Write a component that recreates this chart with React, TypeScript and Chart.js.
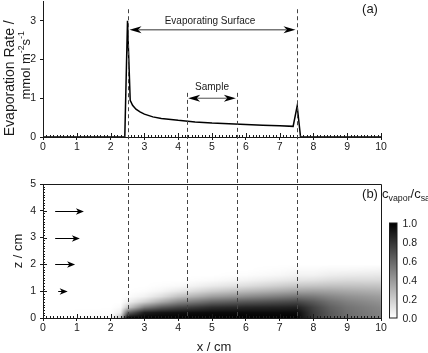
import React, { useEffect, useRef } from "react";
import { Chart, registerables } from "chart.js";

Chart.register(...registerables);

const FONT = "'Liberation Sans', Arial, Helvetica, sans-serif";
const INK = "#1a1a1a";

// ---------- Panel (a): evaporation rate ----------
const rateX = [0, 2.42, 2.5, 2.58, 2.65, 2.75, 2.87, 3.0, 3.25, 3.5, 4.0, 4.5, 5.0, 5.5, 6.0, 6.5, 7.0, 7.4, 7.52, 7.62, 10];
const rateY = [0, 0, 3.0, 0.95, 0.82, 0.72, 0.65, 0.59, 0.52, 0.48, 0.43, 0.39, 0.36, 0.34, 0.32, 0.305, 0.29, 0.275, 0.8, 0, 0];

const xTicks = [0, 1, 2, 3, 4, 5, 6, 7, 8, 9, 10];
const rateTicks = [0, 1, 2, 3];
const zTicks = [0, 1, 2, 3, 4, 5];
const cbTicks = [0, 0.2, 0.4, 0.6, 0.8, 1.0];

// guides and annotations
const guideX = [2.5, 4.25, 5.75, 7.5];
const guideTop = [3.3, 1.14, 1.14, 3.3];
const surfaceSpan = [2.5, 7.5];
const sampleSpan = [4.25, 5.75];
const surfaceLabel = "Evaporating Surface";
const sampleLabel = "Sample";
const surfaceArrowY = 2.77;
const surfaceLabelY = 3.0;
const sampleArrowY = 1.0;
const sampleLabelY = 1.28;

// ---------- Panel (b): vapour concentration field ----------
const flowZ = [4, 3, 2, 1];
const flowFrom = [0.36, 0.36, 0.36, 0.45];
const flowTo = [1.21, 1.09, 0.95, 0.73];

const gridX = [0, 2.0, 2.3, 2.5, 3, 3.5, 4, 5, 6, 7, 7.5, 8, 8.5, 9, 10];
const gridZ = [0, 0.2, 0.4, 0.6, 0.8, 1.0, 1.2, 1.4, 1.6, 1.8, 2.0];
const concZ00 = [0, 0.03, 0.25, 1.0, 1.0, 1.0, 1.0, 1.0, 1.0, 1.0, 1.0, 0.78, 0.66, 0.58, 0.5];
const concZ02 = [0, 0.01, 0.08, 0.6, 0.88, 0.92, 0.94, 0.96, 0.96, 0.96, 0.96, 0.77, 0.65, 0.57, 0.49];
const concZ04 = [0, 0, 0.02, 0.2, 0.5, 0.64, 0.72, 0.82, 0.85, 0.86, 0.87, 0.74, 0.62, 0.55, 0.47];
const concZ06 = [0, 0, 0, 0.05, 0.18, 0.33, 0.46, 0.6, 0.66, 0.7, 0.72, 0.65, 0.56, 0.5, 0.43];
const concZ08 = [0, 0, 0, 0.01, 0.05, 0.13, 0.24, 0.38, 0.45, 0.51, 0.54, 0.52, 0.47, 0.43, 0.38];
const concZ10 = [0, 0, 0, 0, 0.01, 0.04, 0.09, 0.2, 0.27, 0.33, 0.36, 0.37, 0.36, 0.34, 0.31];
const concZ12 = [0, 0, 0, 0, 0, 0.01, 0.02, 0.08, 0.13, 0.19, 0.22, 0.23, 0.24, 0.24, 0.23];
const concZ14 = [0, 0, 0, 0, 0, 0, 0, 0.02, 0.05, 0.09, 0.11, 0.12, 0.14, 0.15, 0.15];
const concZ16 = [0, 0, 0, 0, 0, 0, 0, 0, 0.01, 0.03, 0.05, 0.05, 0.07, 0.08, 0.09];
const concZ18 = [0, 0, 0, 0, 0, 0, 0, 0, 0, 0.01, 0.02, 0.02, 0.03, 0.03, 0.04];
const concZ20 = [0, 0, 0, 0, 0, 0, 0, 0, 0, 0, 0, 0, 0, 0, 0];
const concRows = [concZ00, concZ02, concZ04, concZ06, concZ08, concZ10, concZ12, concZ14, concZ16, concZ18, concZ20];

type Part = { t: string; mode?: "sup" | "sub" };

function drawRich(ctx: CanvasRenderingContext2D, parts: Part[], x: number, cy: number, size: number, align: "center" | "left") {
  const small = size * 0.68;
  const widths = parts.map((p) => {
    ctx.font = `${p.mode ? small : size}px ${FONT}`;
    return ctx.measureText(p.t).width;
  });
  const total = widths.reduce((a, b) => a + b, 0);
  let xx = align === "center" ? x - total / 2 : x;
  ctx.textAlign = "left";
  ctx.textBaseline = "alphabetic";
  parts.forEach((p, i) => {
    ctx.font = `${p.mode ? small : size}px ${FONT}`;
    const dy = p.mode === "sup" ? -size * 0.4 : p.mode === "sub" ? size * 0.28 : 0;
    ctx.fillText(p.t, xx, cy + size * 0.36 + dy);
    xx += widths[i];
  });
}

function head(ctx: CanvasRenderingContext2D, tipX: number, yy: number, dir: number, L: number, H: number) {
  ctx.beginPath();
  ctx.moveTo(tipX, yy);
  ctx.lineTo(tipX - dir * L, yy - H);
  ctx.lineTo(tipX - dir * L * 0.72, yy);
  ctx.lineTo(tipX - dir * L, yy + H);
  ctx.closePath();
  ctx.fill();
}

function doubleArrow(ctx: CanvasRenderingContext2D, x0: number, x1: number, yy: number) {
  const L = 12, H = 3.5;
  ctx.strokeStyle = "#777";
  ctx.lineWidth = 1.3;
  ctx.beginPath();
  ctx.moveTo(x0 + L * 0.75, yy);
  ctx.lineTo(x1 - L * 0.75, yy);
  ctx.stroke();
  ctx.fillStyle = "#000";
  head(ctx, x1, yy, 1, L, H);
  head(ctx, x0, yy, -1, L, H);
}

function findCell(arr: number[], v: number) {
  if (v <= arr[0]) return { i: 0, t: 0 };
  const n = arr.length - 1;
  if (v >= arr[n]) return { i: n - 1, t: 1 };
  let i = 0;
  while (i < n - 1 && v > arr[i + 1]) i++;
  return { i, t: (v - arr[i]) / (arr[i + 1] - arr[i]) };
}

function concAt(x: number, z: number) {
  if (z > gridZ[gridZ.length - 1]) return 0;
  const cx = findCell(gridX, x);
  const cz = findCell(gridZ, z);
  const r0 = concRows[cz.i], r1 = concRows[cz.i + 1];
  const a = r0[cx.i] * (1 - cx.t) + r0[cx.i + 1] * cx.t;
  const b = r1[cx.i] * (1 - cx.t) + r1[cx.i + 1] * cx.t;
  return a * (1 - cz.t) + b * cz.t;
}

const tickFont = { family: FONT, size: 10.5 };

function minorTicksX(ctx: CanvasRenderingContext2D, x: any, bottom: number) {
  ctx.strokeStyle = INK;
  ctx.lineWidth = 1;
  ctx.beginPath();
  for (let k = 0; k <= 100; k++) {
    const px = Math.round(x.getPixelForValue(k / 10)) + 0.5;
    const len = k % 10 === 0 ? 4 : 2;
    ctx.moveTo(px, bottom);
    ctx.lineTo(px, bottom - len);
  }
  ctx.stroke();
}

const topDecor = {
  id: "topDecor",
  afterDraw(chart: any) {
    const { ctx, chartArea: ca } = chart;
    const x = chart.scales.x, y = chart.scales.y;
    ctx.save();
    minorTicksX(ctx, x, ca.bottom);
    // guides
    ctx.strokeStyle = "#444";
    ctx.lineWidth = 1;
    ctx.setLineDash([4, 3]);
    guideX.forEach((gx, i) => {
      const px = Math.round(x.getPixelForValue(gx)) + 0.5;
      ctx.beginPath();
      ctx.moveTo(px, y.getPixelForValue(guideTop[i]));
      ctx.lineTo(px, chart.height);
      ctx.stroke();
    });
    ctx.setLineDash([]);
    // arrows
    doubleArrow(ctx, x.getPixelForValue(surfaceSpan[0]) + 2, x.getPixelForValue(surfaceSpan[1]) - 1, y.getPixelForValue(surfaceArrowY));
    doubleArrow(ctx, x.getPixelForValue(sampleSpan[0]) + 1.5, x.getPixelForValue(sampleSpan[1]) - 1.5, y.getPixelForValue(sampleArrowY));
    ctx.fillStyle = INK;
    ctx.textAlign = "center";
    ctx.textBaseline = "middle";
    ctx.font = `10px ${FONT}`;
    ctx.fillText(surfaceLabel, x.getPixelForValue((surfaceSpan[0] + surfaceSpan[1]) / 2) - 2, y.getPixelForValue(surfaceLabelY));
    ctx.fillText(sampleLabel, x.getPixelForValue((sampleSpan[0] + sampleSpan[1]) / 2), y.getPixelForValue(sampleLabelY));
    ctx.font = `13px ${FONT}`;
    ctx.fillText("(a)", ca.right - 11, ca.top + 8);
    // y title
    ctx.save();
    ctx.translate(10, (ca.top + ca.bottom) / 2 + 9);
    ctx.rotate(-Math.PI / 2);
    ctx.font = `14px ${FONT}`;
    ctx.fillText("Evaporation Rate /", 0, 0);
    ctx.restore();
    ctx.save();
    ctx.translate(25, (ca.top + ca.bottom) / 2 - 4);
    ctx.rotate(-Math.PI / 2);
    drawRich(ctx, [{ t: "mmol m" }, { t: "-2", mode: "sup" }, { t: "s" }, { t: "-1", mode: "sup" }], 0, 0, 13, "center");
    ctx.restore();
    ctx.restore();
  },
};

const bottomDecor = {
  id: "bottomDecor",
  beforeDraw(chart: any) {
    const { ctx, chartArea: ca } = chart;
    const x = chart.scales.x, y = chart.scales.y;
    const left = Math.round(ca.left), top = Math.round(ca.top);
    const w = Math.round(ca.right) - left, h = Math.round(ca.bottom) - top;
    const off = document.createElement("canvas");
    off.width = w;
    off.height = h;
    const octx = off.getContext("2d")!;
    const img = octx.createImageData(w, h);
    for (let r = 0; r < h; r++) {
      const zv = y.getValueForPixel(top + r + 0.5);
      for (let c = 0; c < w; c++) {
        const xv = x.getValueForPixel(left + c + 0.5);
        const v = Math.max(0, Math.min(1, concAt(xv, zv)));
        const g = Math.round(255 * (1 - v));
        const o = (r * w + c) * 4;
        img.data[o] = g;
        img.data[o + 1] = g;
        img.data[o + 2] = g;
        img.data[o + 3] = 255;
      }
    }
    octx.putImageData(img, 0, 0);
    ctx.drawImage(off, left, top);
  },
  afterDraw(chart: any) {
    const { ctx, chartArea: ca } = chart;
    const x = chart.scales.x, y = chart.scales.y;
    ctx.save();
    minorTicksX(ctx, x, ca.bottom);
    // z minor ticks inward
    ctx.beginPath();
    for (let k = 0; k <= 50; k++) {
      const py = Math.round(y.getPixelForValue(k / 10)) + 0.5;
      const len = k % 10 === 0 ? 4 : 2;
      ctx.moveTo(ca.left, py);
      ctx.lineTo(ca.left + len, py);
    }
    ctx.stroke();
    // frame: top & right
    ctx.beginPath();
    ctx.moveTo(ca.left, Math.round(ca.top) + 0.5);
    ctx.lineTo(Math.round(ca.right) + 0.5, Math.round(ca.top) + 0.5);
    ctx.lineTo(Math.round(ca.right) + 0.5, ca.bottom);
    ctx.stroke();
    // guides
    ctx.strokeStyle = "#444";
    ctx.setLineDash([4, 3]);
    guideX.forEach((gx) => {
      const px = Math.round(x.getPixelForValue(gx)) + 0.5;
      ctx.beginPath();
      ctx.moveTo(px, 0);
      ctx.lineTo(px, ca.bottom);
      ctx.stroke();
    });
    ctx.setLineDash([]);
    // flow arrows
    ctx.strokeStyle = "#000";
    ctx.fillStyle = "#000";
    ctx.lineWidth = 1;
    flowZ.forEach((zv, i) => {
      const py = Math.round(y.getPixelForValue(zv)) + 0.5;
      const x0 = x.getPixelForValue(flowFrom[i]);
      const x1 = x.getPixelForValue(flowTo[i]);
      ctx.beginPath();
      ctx.moveTo(x0, py);
      ctx.lineTo(x1 - 5, py);
      ctx.stroke();
      head(ctx, x1, py, 1, 8, 3.2);
    });
    // colorbar
    const cbL = ca.right + 8.5, cbW = 7.5, cbB = ca.bottom, cbT = ca.bottom - 95;
    const grad = ctx.createLinearGradient(0, cbB, 0, cbT);
    grad.addColorStop(0, "#ffffff");
    grad.addColorStop(1, "#000000");
    ctx.fillStyle = grad;
    ctx.fillRect(cbL, cbT, cbW, cbB - cbT);
    ctx.strokeStyle = INK;
    ctx.strokeRect(cbL, cbT, cbW, cbB - cbT);
    ctx.fillStyle = INK;
    ctx.font = `10.5px ${FONT}`;
    ctx.textAlign = "left";
    ctx.textBaseline = "middle";
    cbTicks.forEach((v) => {
      const py = cbB - (cbB - cbT) * v;
      ctx.fillText(v.toFixed(1), cbL + 13, py + 1);
    });
    // labels
    ctx.font = `13px ${FONT}`;
    ctx.textAlign = "center";
    ctx.fillText("(b)", ca.right - 11, ca.top + 10);
    drawRich(ctx, [{ t: "c" }, { t: "vapor", mode: "sub" }, { t: "/c" }, { t: "sat", mode: "sub" }], ca.right + 1, ca.top + 9, 13, "left");
    ctx.font = `13px ${FONT}`;
    ctx.textAlign = "center";
    ctx.textBaseline = "middle";
    ctx.fillText("x / cm", x.getPixelForValue(5) + 2, 182);
    ctx.save();
    ctx.translate(18, (ca.top + ca.bottom) / 2);
    ctx.rotate(-Math.PI / 2);
    ctx.fillText("z / cm", 0, 0);
    ctx.restore();
    ctx.restore();
  },
};

function axisX(height: number) {
  return {
    type: "linear" as const,
    min: 0,
    max: 10,
    afterBuildTicks: (s: any) => {
      s.ticks = xTicks.map((v) => ({ value: v }));
    },
    ticks: { font: tickFont, color: INK, padding: 1, maxRotation: 0, autoSkip: false },
    grid: { drawOnChartArea: false, drawTicks: true, tickLength: 3, color: INK },
    border: { color: INK, width: 1 },
    afterFit: (s: any) => {
      s.height = height;
    },
  };
}

function axisY(max: number, ticks: number[]) {
  return {
    type: "linear" as const,
    min: 0,
    max,
    afterBuildTicks: (s: any) => {
      s.ticks = ticks.map((v) => ({ value: v }));
    },
    ticks: { font: tickFont, color: INK, padding: 4, autoSkip: false },
    grid: { drawOnChartArea: false, drawTicks: true, tickLength: 3, color: INK },
    border: { color: INK, width: 1 },
    afterFit: (s: any) => {
      s.width = 43;
    },
  };
}

export default function App() {
  const topRef = useRef<HTMLCanvasElement>(null);
  const botRef = useRef<HTMLCanvasElement>(null);

  useEffect(() => {
    const a = new Chart(topRef.current!, {
      type: "line",
      data: {
        datasets: [
          {
            data: rateX.map((x, i) => ({ x, y: rateY[i] })),
            borderColor: "#000",
            borderWidth: 1.5,
            pointRadius: 0,
            fill: false,
            tension: 0,
          },
        ],
      },
      options: {
        responsive: false,
        animation: false,
        devicePixelRatio: 1,
        layout: { padding: { left: 0, right: 47, top: 11.5, bottom: 0 } },
        plugins: { legend: { display: false }, tooltip: { enabled: false } },
        scales: { x: axisX(28), y: axisY(3.5, rateTicks) },
      } as any,
      plugins: [topDecor],
    });
    const b = new Chart(botRef.current!, {
      type: "line",
      data: { datasets: [] },
      options: {
        responsive: false,
        animation: false,
        devicePixelRatio: 1,
        layout: { padding: { left: 0, right: 47, top: 19, bottom: 0 } },
        plugins: { legend: { display: false }, tooltip: { enabled: false } },
        scales: { x: axisX(35), y: axisY(5, zTicks) },
      } as any,
      plugins: [bottomDecor],
    });
    return () => {
      a.destroy();
      b.destroy();
    };
  }, []);

  return (
    <div style={{ position: "fixed", left: 0, top: 0, width: 428, height: 353, overflow: "hidden", background: "#fff" }}>
      <canvas ref={topRef} width={428} height={175} style={{ position: "absolute", left: 0, top: -10, width: 428, height: 175 }} />
      <canvas ref={botRef} width={428} height={188} style={{ position: "absolute", left: 0, top: 165, width: 428, height: 188 }} />
    </div>
  );
}
